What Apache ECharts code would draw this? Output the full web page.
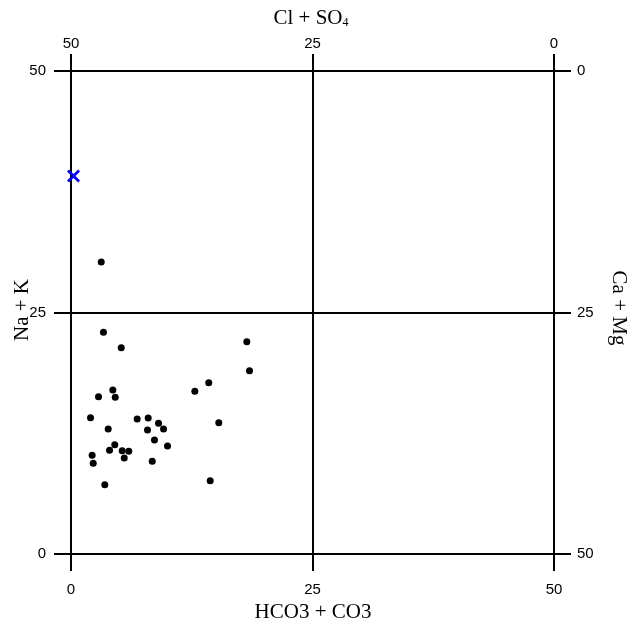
<!DOCTYPE html>
<html>
<head>
<meta charset="utf-8">
<script src="https://cdn.jsdelivr.net/npm/echarts@6/dist/echarts.min.js"></script>
<style>
  html, body { margin: 0; padding: 0; background: #fff; }
  #chart { width: 628px; height: 627px; }
</style>
</head>
<body>
<div id="chart"></div>
<script>
// 数据：HCO3+CO3 (x) 与 Na+K (y)
var xValues = [3.13, 3.36, 5.20, 18.20, 18.48, 14.26, 12.82, 4.33, 2.85, 4.58,
               2.02, 6.85, 7.99, 9.06, 9.58, 7.92, 3.85, 15.30, 8.64, 9.99,
               4.53, 3.99, 5.30, 5.98, 5.51, 2.19, 2.30, 8.41, 3.50, 14.41];
var yValues = [30.23, 22.95, 21.36, 21.98, 18.98, 17.73, 16.84, 16.98, 16.28, 16.22,
               14.11, 13.98, 14.08, 13.53, 12.94, 12.84, 12.94, 13.59, 11.80, 11.18,
               11.31, 10.73, 10.69, 10.63, 9.94, 10.22, 9.39, 9.60, 7.17, 7.59];
// 蓝色叉号
var markX = [0.26];
var markY = [39.13];

var tickFont = { color: '#000', fontSize: 15, fontFamily: 'Liberation Sans, Arial, sans-serif' };
var titleFont = '21px "Liberation Serif", "Times New Roman", serif';

var chart = echarts.init(document.getElementById('chart'));

function axisBase(extra) {
    var base = {
        type: 'value',
        min: 0,
        max: 50,
        interval: 25,
        axisLine: { show: true, onZero: false, lineStyle: { color: '#000', width: 2 } },
        axisTick: { show: true, inside: false, length: 17, lineStyle: { color: '#000', width: 2 } },
        splitLine: { show: false }
    };
    return Object.assign(base, extra);
}

var option = {
    animation: false,
    backgroundColor: '#fff',
    grid: { left: 71, top: 71, width: 483, height: 483 },
    xAxis: [
        axisBase({
            position: 'bottom',
            axisLabel: Object.assign({ margin: 28 }, tickFont),
            splitLine: { show: true, lineStyle: { color: '#000', width: 2 } }
        }),
        axisBase({
            position: 'top',
            inverse: true,
            axisLabel: Object.assign({ margin: 20 }, tickFont)
        })
    ],
    yAxis: [
        axisBase({
            position: 'left',
            axisLabel: Object.assign({ margin: 25 }, tickFont),
            splitLine: { show: true, lineStyle: { color: '#000', width: 2 } }
        }),
        axisBase({
            position: 'right',
            inverse: true,
            axisLabel: Object.assign({ margin: 23 }, tickFont)
        })
    ],
    graphic: [
        { type: 'text', x: 313, y: 612, style: { text: 'HCO3 + CO3', font: titleFont, fill: '#000', align: 'center', verticalAlign: 'middle' } },
        { type: 'text', x: 311, y: 18, style: {
            text: '{a|Cl + SO}{s|4}', align: 'center', verticalAlign: 'middle', fill: '#000',
            rich: {
                a: { fontSize: 21, fontFamily: '"Liberation Serif", serif', verticalAlign: 'middle' },
                s: { fontSize: 12, fontFamily: '"Liberation Serif", serif', verticalAlign: 'bottom' }
            }
        } },
        { type: 'text', x: 22, y: 310, rotation: Math.PI / 2, style: { text: 'Na + K', font: titleFont, fill: '#000', align: 'center', verticalAlign: 'middle' } },
        { type: 'text', x: 619, y: 308, rotation: -Math.PI / 2, style: { text: 'Ca + Mg', font: titleFont, fill: '#000', align: 'center', verticalAlign: 'middle' } }
    ],
    series: [
        {
            type: 'scatter',
            xAxisIndex: 0,
            yAxisIndex: 0,
            symbol: 'circle',
            symbolSize: 7,
            itemStyle: { color: '#000', opacity: 1 },
            data: xValues.map(function (v, i) { return [v, yValues[i]]; })
        },
        {
            type: 'scatter',
            xAxisIndex: 0,
            yAxisIndex: 0,
            symbol: 'path://M0,1.5 L1.5,0 L5,3.5 L8.5,0 L10,1.5 L6.5,5 L10,8.5 L8.5,10 L5,6.5 L1.5,10 L0,8.5 L3.5,5 Z',
            symbolSize: 13,
            itemStyle: { color: '#0000ff', opacity: 1 },
            data: markX.map(function (v, i) { return [v, markY[i]]; })
        }
    ]
};

option && chart.setOption(option);
</script>
</body>
</html>
